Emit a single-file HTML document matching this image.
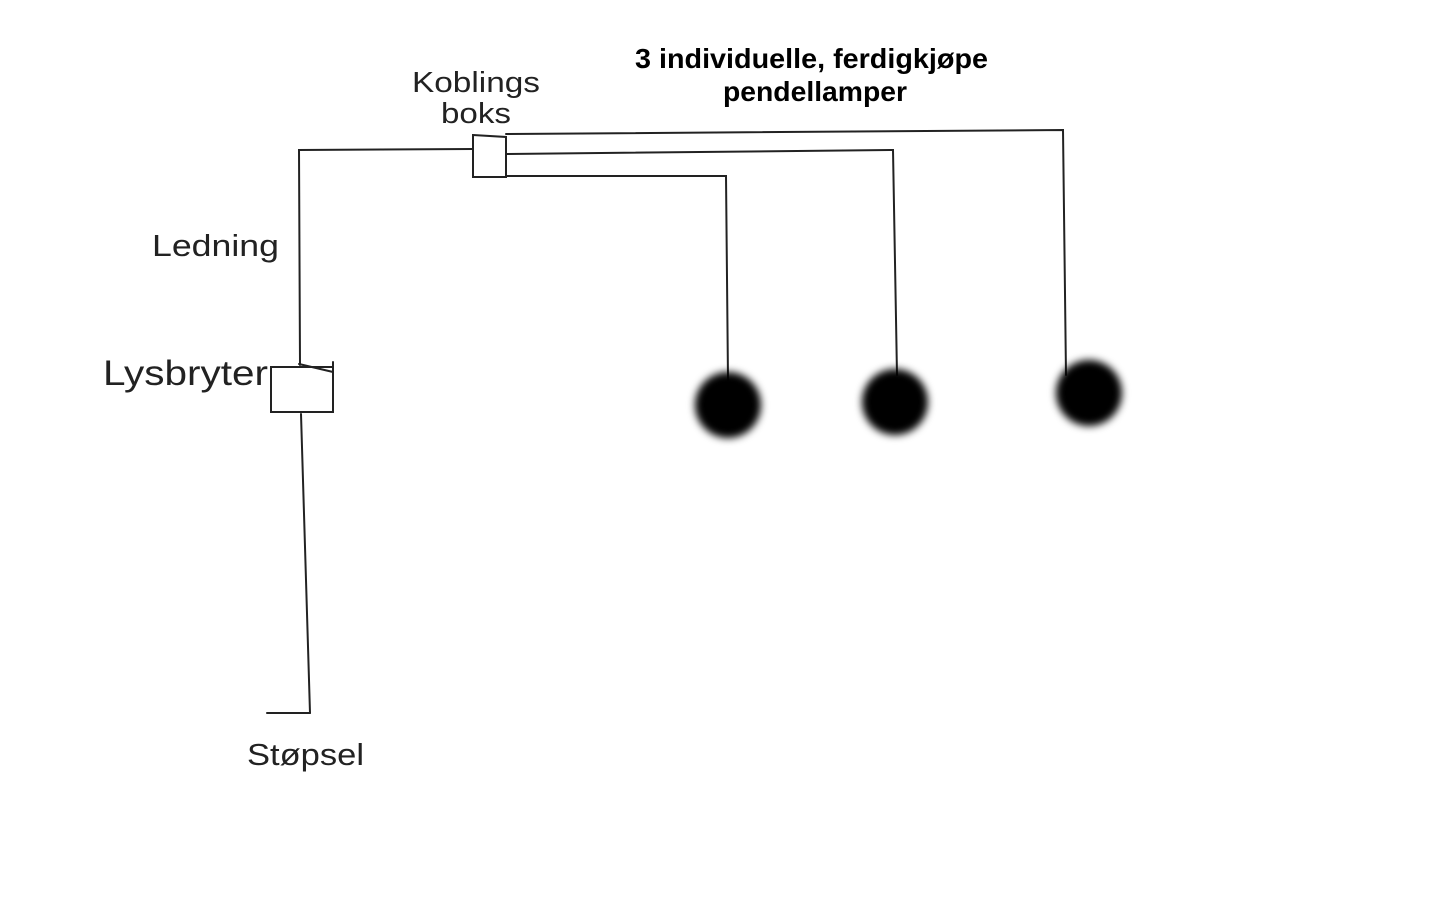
<!DOCTYPE html>
<html><head><meta charset="utf-8"><style>
html,body{margin:0;padding:0;background:#fff;}
svg{display:block;}
</style></head><body>
<svg width="1440" height="900" viewBox="0 0 1440 900" xmlns="http://www.w3.org/2000/svg">
<defs>
<filter id="b" x="-50%" y="-50%" width="200%" height="200%"><feGaussianBlur stdDeviation="4"/></filter>
</defs>
<rect width="1440" height="900" fill="#fff"/>
<g stroke="#222" stroke-width="2" fill="none" stroke-linecap="round">
<polyline points="473,149 299,150 300,365"/>
<line x1="301" y1="414" x2="310" y2="713"/>
<line x1="267" y1="713" x2="310" y2="713"/>
<path d="M271,367 L333,367 L333,412 L271,412 Z" fill="#fff"/>
<path d="M299,364 L333,372 M333,362 L333,372"/>
<path d="M473,135 L506,137 L506,177 L473,177 Z" fill="#fff"/>
<polyline points="506,134 1063,130 1066,375"/>
<polyline points="506,154 893,150 897,375"/>
<polyline points="506,176 726,176 728,380"/>
</g>
<g fill="#000" filter="url(#b)">
<circle cx="728" cy="405" r="33"/>
<circle cx="895" cy="402" r="33"/>
<circle cx="1089" cy="393" r="33"/>
</g>
<g font-family="'Liberation Sans', 'DejaVu Sans', sans-serif" fill="#222">
<text x="476" y="92" font-size="29" text-anchor="middle" textLength="128" lengthAdjust="spacingAndGlyphs">Koblings</text>
<text x="476" y="123" font-size="29" text-anchor="middle" textLength="70" lengthAdjust="spacingAndGlyphs">boks</text>
<text x="152" y="256" font-size="31" textLength="127" lengthAdjust="spacingAndGlyphs">Ledning</text>
<text x="103" y="385" font-size="35" textLength="165" lengthAdjust="spacingAndGlyphs">Lysbryter</text>
<text x="247" y="765" font-size="31" textLength="117" lengthAdjust="spacingAndGlyphs">Støpsel</text>
</g>
<g font-family="'Liberation Sans', 'DejaVu Sans', sans-serif" font-weight="bold" fill="#000">
<text x="635" y="68" font-size="28" textLength="353" lengthAdjust="spacingAndGlyphs">3 individuelle, ferdigkjøpe</text>
<text x="723" y="101" font-size="28" textLength="184" lengthAdjust="spacingAndGlyphs">pendellamper</text>
</g>
</svg>
</body></html>
